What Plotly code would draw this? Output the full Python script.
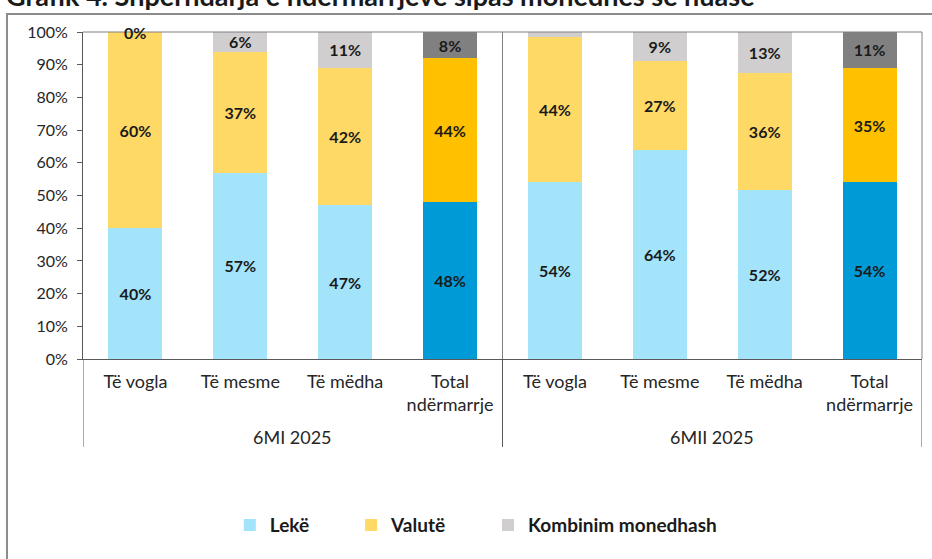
import plotly.graph_objects as go

title_text = "Grafik 4. Shpërndarja e ndërmarrjeve sipas monedhës së huasë"
group_names = ["6MI 2025", "6MII 2025"]
groups = ["6MI 2025"] * 4 + ["6MII 2025"] * 4
categories = ["Të vogla", "Të mesme", "Të mëdha", "Total<br>ndërmarrje"] * 2
is_total = [False, False, False, True] * 2
y_ticks = list(range(0, 101, 10))

leke = [40, 57, 47, 48, 54, 64, 51.6, 54]
valute = [60, 37, 42, 44, 44.4, 27, 35.8, 35]
kombinim = [0, 6, 11, 8, 1.6, 9, 12.6, 11]

series = [
    ("Lekë", leke, "#A3E4FA", "#009AD6", 8),
    ("Valutë", valute, "#FFD966", "#FFC000", 8),
    ("Kombinim monedhash", kombinim, "#D0CECE", "#808080", 0),
]

FONT = "Lato"
LABEL_FONT = dict(family=FONT, size=16, color="#1a1a1a", weight="bold")
NBSP = "\u00a0"
xpos = list(range(len(categories)))

fig = go.Figure()
for name, vals, c_light, c_dark, pad in series:
    colors = [c_dark if t else c_light for t in is_total]
    texts = ["" if (0 < v < 3 or v == 0) else f"{v:.0f}%" for v in vals]
    fig.add_trace(go.Bar(
        name=name + NBSP * pad,
        x=xpos,
        y=vals,
        marker=dict(color=colors, line=dict(width=0)),
        text=texts,
        textposition="inside",
        insidetextanchor="middle",
        constraintext="none",
        textangle=0,
        textfont=LABEL_FONT,
        cliponaxis=False,
    ))

# zero-valued labels (shown at the top of the stack, as in the original)
for i, v in enumerate(kombinim):
    if v == 0:
        fig.add_annotation(x=i, y=leke[i] + valute[i] + v, text=f"{v:.0f}%",
                           showarrow=False, yanchor="middle", font=LABEL_FONT)

# group labels and dividers below the category axis
for g in group_names:
    idx = [i for i, gg in enumerate(groups) if gg == g]
    fig.add_annotation(x=sum(idx) / len(idx), y=-0.2385, yref="paper", text=g,
                       showarrow=False, yanchor="middle",
                       font=dict(family=FONT, size=18, color="#262626"))
bounds = [-0.5] + [i + 0.5 for i in range(len(groups) - 1) if groups[i] != groups[i + 1]] + [len(groups) - 0.5]
for b in bounds:
    fig.add_shape(type="line", xref="x", yref="paper", x0=b, x1=b, y0=-0.269, y1=0,
                  line=dict(color="#595959", width=1))
for b in bounds[1:-1]:
    fig.add_shape(type="line", xref="x", yref="paper", x0=b, x1=b, y0=0, y1=1,
                  line=dict(color="#808080", width=1))

fig.add_annotation(xref="paper", yref="paper", x=-0.094, y=1.056, xanchor="left", yanchor="bottom",
                   text=f"<b>{title_text}</b>", showarrow=False,
                   font=dict(family=FONT, size=27, color="#1a1a1a"))

# outer frame
fig.add_shape(type="path", xref="paper", yref="paper",
              path="M -0.0906 -0.7 L -0.0906 1.055 L 1.2 1.055",
              line=dict(color="#8c8c8c", width=2))

fig.update_layout(
    barmode="stack",
    bargap=0.485,
    width=932, height=559,
    margin=dict(l=83, r=10, t=32, b=200),
    paper_bgcolor="white", plot_bgcolor="white",
    font=dict(family=FONT, size=16, color="#262626"),
    showlegend=True,
    legend=dict(orientation="h", x=0.175, xanchor="left", y=-0.508, yanchor="middle",
                font=dict(family=FONT, size=19, color="#1a1a1a", weight="bold"),
                itemwidth=30, traceorder="normal"),
)
fig.update_yaxes(range=[0, 100], tickvals=y_ticks, ticktext=[f"{t}%" for t in y_ticks],
                 showgrid=False, ticks="outside", ticklen=5, ticklabelstandoff=6,
                 tickcolor="#595959", showline=True, linecolor="#595959",
                 zeroline=False, tickfont=dict(size=16))
fig.update_xaxes(range=[-0.5, len(categories) - 0.5], tickvals=xpos, ticktext=categories,
                 showline=True, linecolor="#595959", showgrid=False, ticklabelstandoff=6,
                 tickfont=dict(size=18), ticks="", zeroline=False)
# plot border (top/right)
fig.add_shape(type="path", xref="paper", yref="paper", path="M 0 1 L 1 1 L 1 0",
              line=dict(color="#808080", width=1))

fig.write_html("out.html", config={"displayModeBar": False},
               post_script="document.body.style.margin='0';document.body.style.overflow='hidden';")
